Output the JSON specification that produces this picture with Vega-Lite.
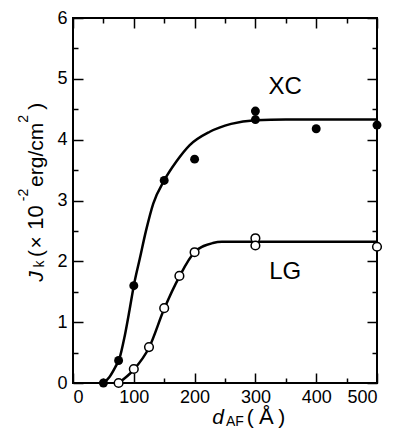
{
  "$schema": "https://vega.github.io/schema/vega-lite/v6.json",
  "width": 304,
  "height": 365,
  "autosize": {"type": "none"},
  "padding": {"left": 73, "top": 18, "right": 21, "bottom": 60},
  "background": "white",
  "config": {
    "view": {"stroke": "black", "strokeWidth": 2},
    "font": "Liberation Sans",
    "text": {"color": "black", "font": "Liberation Sans"},
    "axis": {"grid": false, "domain": false, "tickColor": "black", "tickWidth": 1.5, "labelColor": "black", "labelFont": "Liberation Sans", "labelFontSize": 18}
  },
  "datasets": {
    "curve": [
      {"series": "XC", "d": 50, "J": 0},
      {"series": "XC", "d": 60, "J": 0.1},
      {"series": "XC", "d": 70, "J": 0.27},
      {"series": "XC", "d": 76, "J": 0.39},
      {"series": "XC", "d": 85, "J": 0.77},
      {"series": "XC", "d": 93, "J": 1.2},
      {"series": "XC", "d": 100, "J": 1.6},
      {"series": "XC", "d": 110, "J": 2.05},
      {"series": "XC", "d": 120, "J": 2.5},
      {"series": "XC", "d": 132, "J": 2.95},
      {"series": "XC", "d": 150, "J": 3.33},
      {"series": "XC", "d": 170, "J": 3.64},
      {"series": "XC", "d": 192, "J": 3.91},
      {"series": "XC", "d": 225, "J": 4.13},
      {"series": "XC", "d": 260, "J": 4.26},
      {"series": "XC", "d": 300, "J": 4.32},
      {"series": "XC", "d": 350, "J": 4.33},
      {"series": "XC", "d": 500, "J": 4.33},
      {"series": "LG", "d": 75, "J": 0},
      {"series": "LG", "d": 100, "J": 0.22},
      {"series": "LG", "d": 125, "J": 0.58},
      {"series": "LG", "d": 150, "J": 1.22},
      {"series": "LG", "d": 175, "J": 1.75},
      {"series": "LG", "d": 200, "J": 2.15},
      {"series": "LG", "d": 230, "J": 2.3},
      {"series": "LG", "d": 245, "J": 2.32},
      {"series": "LG", "d": 500, "J": 2.32}
    ],
    "points": [
      {"series": "XC", "d": 50, "J": 0},
      {"series": "XC", "d": 75, "J": 0.37},
      {"series": "XC", "d": 100, "J": 1.6},
      {"series": "XC", "d": 150, "J": 3.33},
      {"series": "XC", "d": 200, "J": 3.68},
      {"series": "XC", "d": 300, "J": 4.47},
      {"series": "XC", "d": 300, "J": 4.33},
      {"series": "XC", "d": 400, "J": 4.18},
      {"series": "XC", "d": 500, "J": 4.24},
      {"series": "LG", "d": 75, "J": 0},
      {"series": "LG", "d": 100, "J": 0.23},
      {"series": "LG", "d": 125, "J": 0.59},
      {"series": "LG", "d": 150, "J": 1.23},
      {"series": "LG", "d": 175, "J": 1.76},
      {"series": "LG", "d": 200, "J": 2.15},
      {"series": "LG", "d": 300, "J": 2.38},
      {"series": "LG", "d": 300, "J": 2.26},
      {"series": "LG", "d": 500, "J": 2.24}
    ],
    "one": [{}]
  },
  "layer": [
    {
      "data": {"name": "curve"},
      "transform": [{"filter": "datum.series === 'XC'"}],
      "mark": {"type": "line", "color": "black", "strokeWidth": 2.5, "interpolate": "monotone"},
      "encoding": {
        "x": {"field": "d", "type": "quantitative", "scale": {"domain": [0, 500], "nice": false},
          "axis": {"orient": "bottom", "title": null, "values": [0, 50, 100, 150, 200, 250, 300, 350, 400, 450, 500],
            "labelExpr": "datum.value % 100 === 0 ? format(datum.value, 'd') : ''",
            "tickSize": {"condition": {"test": "datum.value % 100 === 0", "value": -10}, "value": -5},
            "labelPadding": 15}},
        "y": {"field": "J", "type": "quantitative", "scale": {"domain": [0, 6], "nice": false},
          "axis": {"orient": "left", "title": null, "values": [0, 0.5, 1, 1.5, 2, 2.5, 3, 3.5, 4, 4.5, 5, 5.5, 6],
            "labelExpr": "datum.value % 1 === 0 ? format(datum.value, 'd') : ''",
            "tickSize": {"condition": {"test": "datum.value % 1 === 0", "value": -10}, "value": -5},
            "labelPadding": 16}}
      }
    },
    {
      "data": {"name": "curve"},
      "transform": [{"filter": "datum.series === 'LG'"}],
      "mark": {"type": "line", "color": "black", "strokeWidth": 2.5, "interpolate": "monotone"},
      "encoding": {
        "x": {"field": "d", "type": "quantitative", "axis": null},
        "y": {"field": "J", "type": "quantitative", "axis": null}
      }
    },
    {
      "data": {"name": "points"},
      "transform": [{"filter": "datum.series === 'XC'"}],
      "mark": {"type": "point", "shape": "circle", "filled": true, "color": "black", "size": 80, "opacity": 1},
      "encoding": {
        "x": {"field": "d", "type": "quantitative", "axis": null},
        "y": {"field": "J", "type": "quantitative", "axis": null}
      }
    },
    {
      "data": {"name": "points"},
      "transform": [{"filter": "datum.series === 'LG'"}],
      "mark": {"type": "point", "shape": "circle", "filled": true, "fill": "white", "stroke": "black", "strokeWidth": 1.5, "size": 75, "opacity": 1},
      "encoding": {
        "x": {"field": "d", "type": "quantitative", "axis": null},
        "y": {"field": "J", "type": "quantitative", "axis": null}
      }
    },
    {
      "data": {"name": "points"},
      "mark": {"type": "point", "opacity": 0},
      "encoding": {
        "x": {"field": "d", "type": "quantitative",
          "axis": {"orient": "top", "title": null, "labels": false, "values": [0, 50, 100, 150, 200, 250, 300, 350, 400, 450, 500],
            "tickSize": {"condition": {"test": "datum.value % 100 === 0", "value": -10}, "value": -5}}},
        "y": {"field": "J", "type": "quantitative",
          "axis": {"orient": "right", "title": null, "labels": false, "values": [0, 0.5, 1, 1.5, 2, 2.5, 3, 3.5, 4, 4.5, 5, 5.5, 6],
            "tickSize": {"condition": {"test": "datum.value % 1 === 0", "value": -10}, "value": -5}}}
      }
    },
    {
      "data": {"name": "one"},
      "mark": {"type": "text", "text": "XC", "fontSize": 24, "align": "center", "baseline": "middle"},
      "encoding": {"x": {"datum": 349, "type": "quantitative", "axis": null}, "y": {"datum": 4.87, "type": "quantitative", "axis": null}}
    },
    {
      "data": {"name": "one"},
      "mark": {"type": "text", "text": "LG", "fontSize": 24, "align": "center", "baseline": "middle"},
      "encoding": {"x": {"datum": 349, "type": "quantitative", "axis": null}, "y": {"datum": 1.83, "type": "quantitative", "axis": null}}
    },
    {
      "data": {"name": "one"},
      "mark": {"type": "text", "text": "d", "fontSize": 21, "fontStyle": "italic", "align": "center", "baseline": "alphabetic"},
      "encoding": {"x": {"datum": 238.5, "type": "quantitative", "axis": null}, "y": {"datum": -0.68, "type": "quantitative", "axis": null}}
    },
    {
      "data": {"name": "one"},
      "mark": {"type": "text", "text": "AF", "fontSize": 14, "align": "center", "baseline": "alphabetic"},
      "encoding": {"x": {"datum": 266.4, "type": "quantitative", "axis": null}, "y": {"datum": -0.707, "type": "quantitative", "axis": null}}
    },
    {
      "data": {"name": "one"},
      "mark": {"type": "text", "text": "(", "fontSize": 21, "align": "center", "baseline": "alphabetic"},
      "encoding": {"x": {"datum": 291.6, "type": "quantitative", "axis": null}, "y": {"datum": -0.68, "type": "quantitative", "axis": null}}
    },
    {
      "data": {"name": "one"},
      "mark": {"type": "text", "text": "Å", "fontSize": 22, "align": "center", "baseline": "alphabetic"},
      "encoding": {"x": {"datum": 318, "type": "quantitative", "axis": null}, "y": {"datum": -0.68, "type": "quantitative", "axis": null}}
    },
    {
      "data": {"name": "one"},
      "mark": {"type": "text", "text": ")", "fontSize": 21, "align": "center", "baseline": "alphabetic"},
      "encoding": {"x": {"datum": 343.3, "type": "quantitative", "axis": null}, "y": {"datum": -0.68, "type": "quantitative", "axis": null}}
    },
    {
      "data": {"name": "one"},
      "mark": {"type": "text", "text": "J", "fontSize": 21, "fontStyle": "italic", "angle": 270, "align": "center", "baseline": "alphabetic"},
      "encoding": {"x": {"datum": -48.8, "type": "quantitative", "axis": null}, "y": {"datum": 1.75, "type": "quantitative", "axis": null}}
    },
    {
      "data": {"name": "one"},
      "mark": {"type": "text", "text": "k", "fontSize": 14, "angle": 270, "align": "center", "baseline": "alphabetic"},
      "encoding": {"x": {"datum": -47.7, "type": "quantitative", "axis": null}, "y": {"datum": 1.957, "type": "quantitative", "axis": null}}
    },
    {
      "data": {"name": "one"},
      "mark": {"type": "text", "text": "(", "fontSize": 21, "angle": 270, "align": "center", "baseline": "alphabetic"},
      "encoding": {"x": {"datum": -48.8, "type": "quantitative", "axis": null}, "y": {"datum": 2.13, "type": "quantitative", "axis": null}}
    },
    {
      "data": {"name": "one"},
      "mark": {"type": "text", "text": "×", "fontSize": 21, "angle": 270, "align": "center", "baseline": "alphabetic"},
      "encoding": {"x": {"datum": -48.8, "type": "quantitative", "axis": null}, "y": {"datum": 2.31, "type": "quantitative", "axis": null}}
    },
    {
      "data": {"name": "one"},
      "mark": {"type": "text", "text": "10", "fontSize": 22, "angle": 270, "align": "center", "baseline": "alphabetic"},
      "encoding": {"x": {"datum": -48.8, "type": "quantitative", "axis": null}, "y": {"datum": 2.72, "type": "quantitative", "axis": null}}
    },
    {
      "data": {"name": "one"},
      "mark": {"type": "text", "text": "-2", "fontSize": 14, "angle": 270, "align": "center", "baseline": "alphabetic"},
      "encoding": {"x": {"datum": -74, "type": "quantitative", "axis": null}, "y": {"datum": 3.09, "type": "quantitative", "axis": null}}
    },
    {
      "data": {"name": "one"},
      "mark": {"type": "text", "text": "erg/cm", "fontSize": 21, "angle": 270, "align": "center", "baseline": "alphabetic"},
      "encoding": {"x": {"datum": -48.8, "type": "quantitative", "axis": null}, "y": {"datum": 3.75, "type": "quantitative", "axis": null}}
    },
    {
      "data": {"name": "one"},
      "mark": {"type": "text", "text": "2", "fontSize": 14, "angle": 270, "align": "center", "baseline": "alphabetic"},
      "encoding": {"x": {"datum": -74, "type": "quantitative", "axis": null}, "y": {"datum": 4.34, "type": "quantitative", "axis": null}}
    },
    {
      "data": {"name": "one"},
      "mark": {"type": "text", "text": ")", "fontSize": 21, "angle": 270, "align": "center", "baseline": "alphabetic"},
      "encoding": {"x": {"datum": -48.8, "type": "quantitative", "axis": null}, "y": {"datum": 4.55, "type": "quantitative", "axis": null}}
    }
  ],
  "resolve": {"axis": {"x": "independent", "y": "independent"}}
}
